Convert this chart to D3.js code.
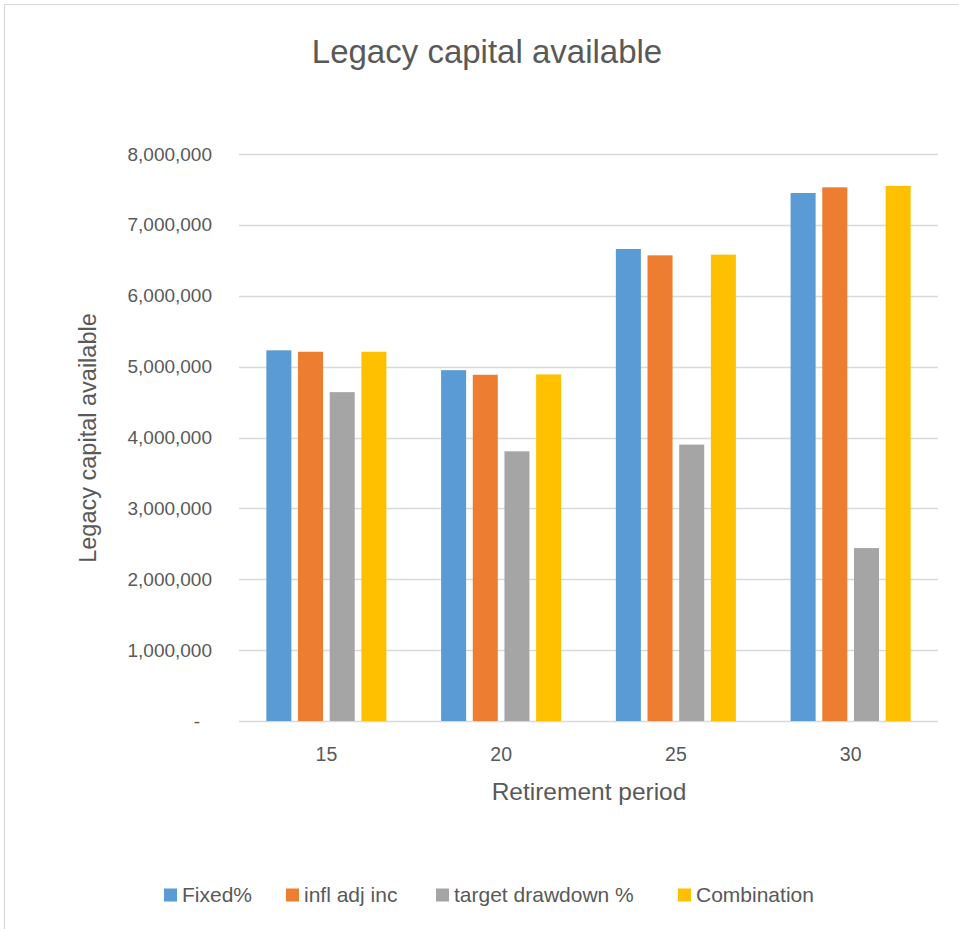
<!DOCTYPE html>
<html>
<head>
<meta charset="utf-8">
<script src="https://cdn.jsdelivr.net/npm/d3@7/dist/d3.min.js"></script>
<style>
  html, body { margin: 0; padding: 0; background: #fff; }
  svg { display: block; font-family: "Liberation Sans", Arial, sans-serif; }
</style>
</head>
<body>
<svg id="chart" width="959" height="929"></svg>
<script>
const chartTitle = "Legacy capital available";
const yAxisTitle = "Legacy capital available";
const xAxisTitle = "Retirement period";
const categories = ["15", "20", "25", "30"];
const seriesNames = ["Fixed%", "infl adj inc", "target drawdown %", "Combination"];
const fixedPct = [5230000, 4950000, 6660000, 7450000];
const inflAdjInc = [5210000, 4885000, 6570000, 7530000];
const targetDrawdown = [4640000, 3805000, 3900000, 2440000];
const combination = [5210000, 4890000, 6580000, 7550000];
const yTicks = [0, 1000000, 2000000, 3000000, 4000000, 5000000, 6000000, 7000000, 8000000];
const colors = ["#5B9BD5", "#ED7D31", "#A5A5A5", "#FFC000"];

const seriesValues = [fixedPct, inflAdjInc, targetDrawdown, combination];
const textColor = "#595959";
const gridColor = "#D9D9D9";

const svg = d3.select("#chart");

// chart area border (left & top visible)
svg.append("path")
  .attr("d", "M4.5,929 V4.5 H959")
  .attr("fill", "none")
  .attr("stroke", gridColor)
  .attr("stroke-width", 1.2);

const plot = { left: 239, right: 938, top: 154, bottom: 721 };

const y = d3.scaleLinear().domain([0, 8000000]).range([plot.bottom, plot.top]);
const x0 = d3.scaleBand().domain(categories).range([plot.left, plot.right])
  .paddingInner(0.313).paddingOuter(0.1565);
const x1 = d3.scaleBand().domain(d3.range(seriesNames.length)).range([0, x0.bandwidth()])
  .paddingInner(0.21).paddingOuter(0);

// gridlines
svg.append("g").selectAll("line").data(yTicks).join("line")
  .attr("x1", plot.left).attr("x2", plot.right)
  .attr("y1", d => Math.round(y(d)) + 0.5).attr("y2", d => Math.round(y(d)) + 0.5)
  .attr("stroke", gridColor).attr("stroke-width", 1.5);

// y axis labels
const fmt = d3.format(",");
const yAxis = d3.axisLeft(y).tickValues(yTicks).tickSize(0).tickPadding(0)
  .tickFormat(d => d === 0 ? "-" : fmt(d));
const yg = svg.append("g").attr("transform", `translate(${212},0)`).call(yAxis);
yg.select(".domain").remove();
yg.selectAll("text")
  .attr("fill", textColor)
  .style("font-size", "19px")
  .style("font-family", "'Liberation Sans', Arial, sans-serif")
  .attr("dx", d => d === 0 ? -12 : 0);

// bars
const groups = svg.append("g").selectAll("g").data(categories).join("g")
  .attr("transform", d => `translate(${x0(d)},0)`);
groups.selectAll("rect")
  .data((c, ci) => seriesValues.map((vals, si) => ({ si, v: vals[ci] })))
  .join("rect")
  .attr("x", d => x1(d.si))
  .attr("width", x1.bandwidth())
  .attr("y", d => y(d.v))
  .attr("height", d => y(0) - y(d.v))
  .attr("fill", d => colors[d.si]);

// x axis labels
const xAxis = d3.axisBottom(x0).tickSize(0).tickPadding(0);
const xg = svg.append("g").attr("transform", `translate(0,${plot.bottom + 26})`).call(xAxis);
xg.select(".domain").remove();
xg.selectAll("text")
  .attr("fill", textColor)
  .style("font-size", "19.5px")
  .style("font-family", "'Liberation Sans', Arial, sans-serif");

// titles
svg.append("text")
  .attr("x", 487).attr("y", 63)
  .attr("text-anchor", "middle")
  .attr("fill", textColor)
  .style("font-size", "33px")
  .text(chartTitle);

svg.append("text")
  .attr("x", 589).attr("y", 800)
  .attr("text-anchor", "middle")
  .attr("fill", textColor)
  .style("font-size", "24.5px")
  .text(xAxisTitle);

svg.append("text")
  .attr("transform", `translate(96,438) rotate(-90)`)
  .attr("text-anchor", "middle")
  .attr("fill", textColor)
  .style("font-size", "23.5px")
  .text(yAxisTitle);

// legend
const legendX = [164, 286, 436, 678];
const lg = svg.append("g").selectAll("g").data(seriesNames).join("g")
  .attr("transform", (d, i) => `translate(${legendX[i]},895)`);
lg.append("rect")
  .attr("x", 0).attr("y", -6.5).attr("width", 13).attr("height", 13)
  .attr("fill", (d, i) => colors[i]);
lg.append("text")
  .attr("x", 18).attr("y", 0).attr("dy", "0.35em")
  .attr("fill", textColor)
  .style("font-size", "21px")
  .text(d => d);
</script>
</body>
</html>
